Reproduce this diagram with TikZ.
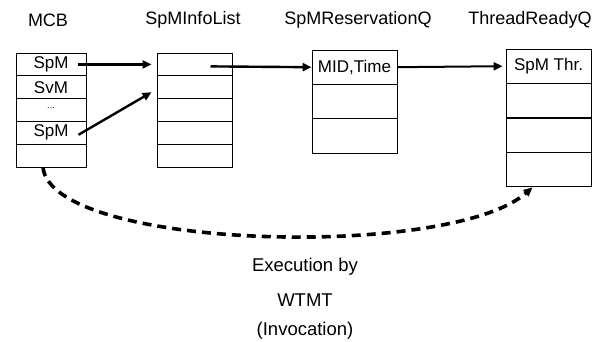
\documentclass[tikz,border=0pt]{standalone}
\usepackage{fontspec}
\setmainfont{Liberation Sans}
\usetikzlibrary{arrows.meta}

\begin{document}
\begin{tikzpicture}[x=1pt, y=-1pt,
    >={Triangle[length=9pt, width=8pt]},
    title/.style={font=\fontsize{18}{20}\selectfont},
    label/.style={font=\fontsize{18.5}{20}\selectfont},
    cell/.style={draw, line width=0.9pt, inner sep=0pt, font=\fontsize{17}{19}\selectfont},
    mcbcell/.style={cell, minimum width=70pt, minimum height=22.8pt},
    listcell/.style={cell, minimum width=75pt, minimum height=22.8pt},
    qcell/.style={cell, minimum width=85pt, minimum height=34.4pt},
    link/.style={line width=2.4pt},
    invoke/.style={line width=3.6pt, dash pattern=on 9pt off 6pt}]

     \useasboundingbox (0, 0) rectangle (603, 342);

     % titles
     \node (tMCB) at (48, 20) [title] {MCB};
     \node (tList) at (193, 20) [title] {SpMInfoList};
     \node (tRes) at (358, 20) [title] {SpMReservationQ};
     \node (tReady) at (530, 20) [title] {ThreadReadyQ};

     % MCB
     \node (M1) at (51, 64.4) [mcbcell] {SpM};
     \node (M2) at (51, 87.2) [mcbcell] {SvM};
     \node (M3) at (51, 110) [mcbcell] {\fontsize{9}{10}\selectfont\raisebox{3pt}{...}};
     \node (M4) at (51, 132.8) [mcbcell] {SpM};
     \node (M5) at (51, 155.6) [mcbcell] {};

     % SpMInfoList
     \node (L1) at (194.5, 64.4) [listcell] {};
     \node (L2) at (194.5, 87.2) [listcell] {};
     \node (L3) at (194.5, 110) [listcell] {};
     \node (L4) at (194.5, 132.8) [listcell] {};
     \node (L5) at (194.5, 155.6) [listcell] {};

     % SpMReservationQ
     \node (R1) at (354.5, 67.2) [qcell] {MID,Time};
     \node (R2) at (354.5, 101.5) [qcell] {};
     \node (R3) at (354.5, 135.8) [qcell] {};

     % ThreadReadyQ
     \node (T1) at (548.5, 66.2) [qcell] {SpM Thr.};
     \node (T2) at (548.5, 100.7) [qcell] {};
     \node (T3) at (548.5, 135.2) [qcell] {};
     \node (T4) at (548.5, 169.7) [qcell] {};

     \draw [->, link] ([xshift=-8pt]M1.east) -- ([xshift=-5pt]L1.west);
     \draw [->, link] ([xshift=-8pt, yshift=-2pt]M4.east) -- ([xshift=-5pt, yshift=-5pt]L2.west);
     \draw [->, link] ([xshift=16pt, yshift=-2pt]L1.center) -- (R1.west);
     \draw [->, link, line width=2pt] (R1.east) -- ([xshift=-3pt]T1.west);

     % invocation by WTMT
     \draw [->, invoke] ([xshift=-8pt]M5.south) .. controls (52, 250) and (450, 260) .. ([xshift=-16pt]T4.south);

     \node (exec) at (305, 267) [label] {Execution by};
     \node (wtmt) at (305, 300) [label] {WTMT};
     \node (invc) at (305, 331) [label] {(Invocation)};

 \end{tikzpicture}
\end{document}
